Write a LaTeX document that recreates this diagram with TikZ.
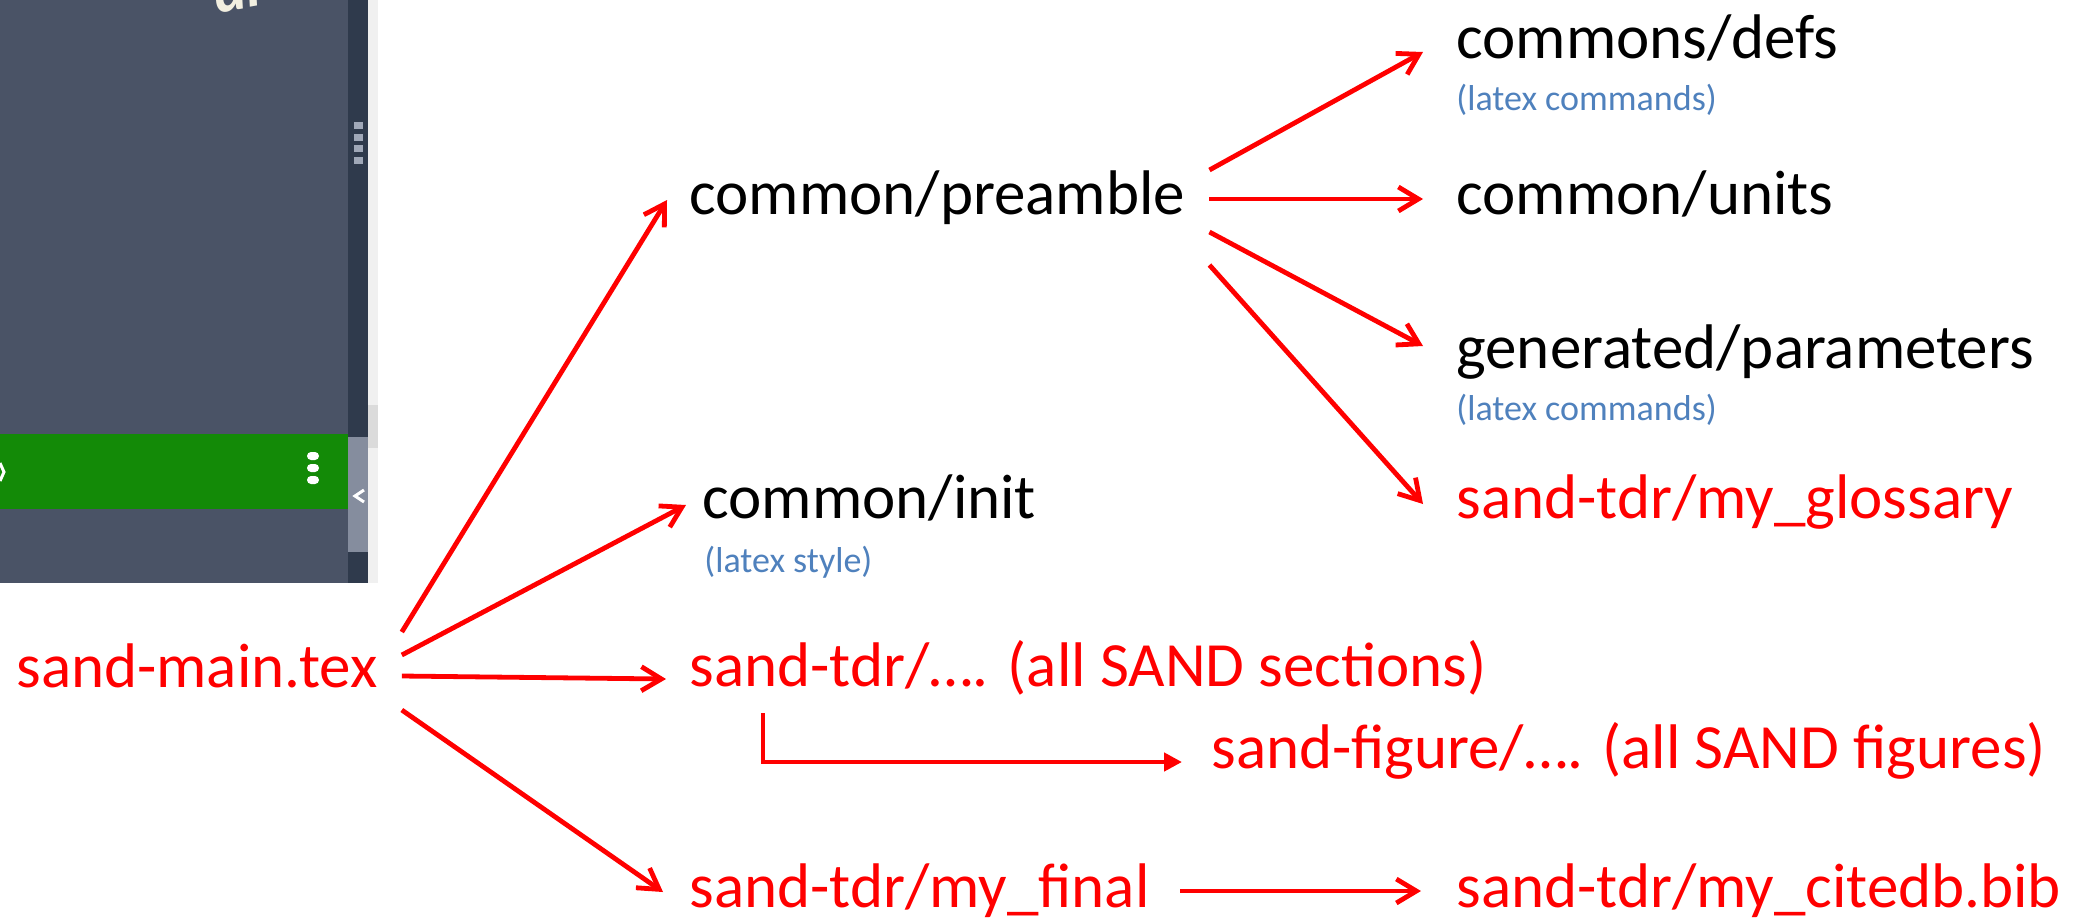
\documentclass[tikz,border=0pt]{standalone}
\usepackage{fontspec}
\setmainfont{Carlito}
\usetikzlibrary{arrows.meta,calc}

\definecolor{sandred}{RGB}{255,0,0}
\definecolor{noteblue}{RGB}{79,129,189}
\definecolor{panelgray}{RGB}{74,83,102}
\definecolor{paneldark}{RGB}{47,58,76}
\definecolor{panelgreen}{RGB}{19,138,7}
\definecolor{handlegray}{RGB}{133,141,158}
\definecolor{gripgray}{RGB}{160,168,184}
\definecolor{edgegray}{RGB}{240,240,240}
\definecolor{creamtext}{RGB}{242,239,224}

\begin{document}
\begin{tikzpicture}[x=0.5pt,y=0.5pt,yscale=-1,
  file/.style={anchor=base west,inner sep=0pt,font=\fontsize{31.5}{36}\selectfont},
  texfile/.style={file,text=black},
  sandfile/.style={file,text=sandred},
  note/.style={anchor=base west,inner sep=0pt,text=noteblue,font=\fontsize{18}{21}\selectfont},
  link/.style={draw=sandred,line width=2.4pt,-{Straight Barb[length=10pt,width=12pt]}},
  elbow/.style={draw=sandred,line width=2.4pt,-{Triangle[length=9pt,width=9pt]}}]
\useasboundingbox (0,0) rectangle (2075,922);

%Shape: screenshot panel
\fill[edgegray] (368,0) rectangle (378,583);
\fill[black!14] (368,405) rectangle (378,448);
\fill[panelgray] (0,0) rectangle (348,583);
\fill[paneldark] (348,0) rectangle (368,583);
\begin{scope}
\clip (0,0) rectangle (348,583);
\node[anchor=base,inner sep=0pt,rotate=10,text=creamtext,font=\fontsize{30}{34}\bfseries\itshape] (title) at (240,9) {al};
\end{scope}
\foreach \y in {122,134,145,157}
  \fill[gripgray] (354,\y) rectangle (363,\y+7);

%Shape: green bar
\fill[panelgreen] (0,434) rectangle (348,509);
\foreach \y in {452,464,476}
  \fill[white,rounded corners=2] (307,\y) rectangle (319,\y+8);
\draw[white,line width=1.5pt] (0,463) -- (4,472) -- (0,481);
\fill[handlegray] (348,437) rectangle (368,552);
\draw[white,line width=1.5pt] (364,490) -- (355,496) -- (364,502);

% Text Node
\node[sandfile] (main) at (16,687) {sand-main.tex};
% Text Node
\node[texfile] (pre) at (689,214) {common/preamble};
% Text Node
\node[texfile] (init) at (702,518) {common/init};
\node[note] (initnote) at (704,572) {(latex style)};
% Text Node
\node[sandfile] (sect) at (689,686) {sand-tdr/…. (all SAND sections)};
% Text Node
\node[sandfile] (fig) at (1211,768) {sand-figure/…. (all SAND figures)};
% Text Node
\node[sandfile] (final) at (689,907) {sand-tdr/my\_final};
% Text Node
\node[sandfile] (cite) at (1456,907) {sand-tdr/my\_citedb.bib};
% Text Node
\node[texfile] (defs) at (1456,58) {commons/defs};
\node[note] (defsnote) at (1456,110) {(latex commands)};
% Text Node
\node[texfile] (units) at (1456,214) {common/units};
% Text Node
\node[texfile] (params) at (1456,368) {generated/parameters};
\node[note] (paramsnote) at (1456,420) {(latex commands)};
% Text Node
\node[sandfile] (gloss) at (1456,518) {sand-tdr/my\_glossary};

%Straight Lines
\draw[link] ($(main.base east)+(24,-55)$) -- ($(pre.base west)+(-22,-14)$);
\draw[link] ($(main.base east)+(24,-32)$) -- ($(init.base west)+(-16,-13)$);
\draw[link] ($(main.base east)+(24,-11)$) -- ($(sect.base west)+(-23,-7)$);
\draw[link] ($(main.base east)+(24,23)$) -- ($(final.base west)+(-26,-15)$);

%Straight Lines
\draw[link] ($(pre.base east)+(24,-44)$) -- ($(defs.base west)+(-33,-6)$);
\draw[link] ($(pre.base east)+(24,-15)$) -- ($(units.base west)+(-33,-15)$);
\draw[link] ($(pre.base east)+(24,18)$) -- ($(params.base west)+(-33,-22)$);
\draw[link] ($(pre.base east)+(24,51)$) -- ($(gloss.base west)+(-33,-14)$);

%Straight Lines
\draw[elbow] ($(sect.base west)+(74,27)$) |- ($(fig.base west)+(-29,-6)$);
\draw[link] ($(final.base east)+(30,-16)$) -- ($(cite.base west)+(-35,-16)$);

\end{tikzpicture}
\end{document}
